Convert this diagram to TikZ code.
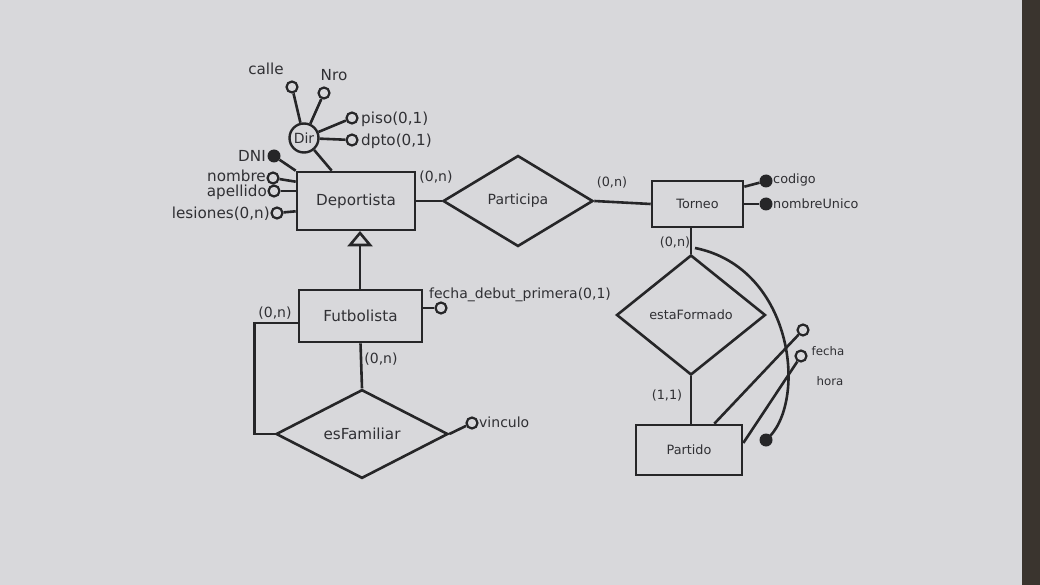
\documentclass[tikz,border=0pt]{standalone}
\usepackage{fontspec}
\setmainfont{DejaVu Sans}
\usetikzlibrary{shapes.geometric,calc}
\definecolor{pagecol}{RGB}{216,216,219}
\definecolor{edgecol}{RGB}{58,52,46}
\definecolor{inkcol}{RGB}{38,38,40}
\definecolor{txtcol}{RGB}{48,48,52}
\tikzset{
  every node/.style={text=txtcol},
  ln/.style={draw=inkcol, line width=2.6pt},
  ent/.style={draw=inkcol, line width=2.6pt, rectangle, inner sep=0pt},
  rel/.style={draw=inkcol, line width=2.6pt, diamond, inner sep=0pt},
  attr/.style={draw=inkcol, line width=2.2pt, circle, fill=pagecol, minimum size=11pt, inner sep=0pt},
  keyattr/.style={circle, fill=inkcol, minimum size=13pt, inner sep=0pt},
  big/.style={font=\fontsize{15.2}{17}\selectfont},
  mid/.style={font=\fontsize{14}{16}\selectfont},
  small/.style={font=\fontsize{12.8}{14}\selectfont},
  tiny/.style={font=\fontsize{11.8}{13}\selectfont},
  lbl/.style={inner sep=0pt}
}
\begin{document}
\begin{tikzpicture}[x=1pt,y=-1pt]
\useasboundingbox (0,0) rectangle (1040,585);
\fill[pagecol] (0,0) rectangle (1040,585);
\fill[edgecol] (1022,0) rectangle (1040,585);

% entities
\node[ent, big, minimum width=118pt, minimum height=58pt] (dep) at (356,201) {Deportista};
\node[ent, small, minimum width=91pt, minimum height=46pt] (tor) at (697.5,204) {Torneo};
\node[ent, small, minimum width=106pt, minimum height=50pt] (par) at (689,450) {Partido};
\node[ent, big, minimum width=123pt, minimum height=52pt] (fut) at (360.5,316) {Futbolista};

% relationships
\node[rel, mid, minimum width=150pt, minimum height=91pt] (pa) at (518,201) {Participa};
\node[rel, small, minimum width=149pt, minimum height=120pt] (ef) at (691,315) {estaFormado};
\node[rel, big, minimum width=172pt, minimum height=88pt] (esf) at (362,434) {esFamiliar};

% composite attribute Dir
\node[draw=inkcol, line width=2.4pt, circle, fill=pagecol, minimum size=29pt, inner sep=0pt, mid] (dir) at (304,138) {Dir};
\node[attr] (calleC) at (292,87) {};
\node[attr] (nroC) at (324,93) {};
\node[attr] (pisoC) at (352,118) {};
\node[attr] (dptoC) at (352,140) {};
\node[big, lbl] (calleL) at (266,69) {calle};
\node[big, lbl] (nroL) at (334,75) {Nro};
\node[big, lbl, anchor=west] (pisoL) at (361,119) {piso(0,1)};
\node[big, lbl, anchor=west] (dptoL) at (361,141) {dpto(0,1)};
\draw[ln] (dir) -- (calleC);
\draw[ln] (dir) -- (nroC);
\draw[ln] (dir) -- (pisoC);
\draw[ln] (dir) -- (dptoC);
\draw[ln] (dir) -- ([xshift=36pt]dep.north west);

% Deportista attributes
\node[keyattr] (dniC) at (274,156) {};
\node[attr] (nomC) at (273,178) {};
\node[attr] (apeC) at (274,191) {};
\node[attr] (lesC) at (277,213) {};
\node[big, lbl, anchor=east] (dniL) at (266,156) {DNI};
\node[big, lbl, anchor=east] (nomL) at (266,176) {nombre};
\node[big, lbl, anchor=east] (apeL) at (267,192) {apellido};
\node[big, lbl, anchor=east] (lesL) at (270,214) {lesiones(0,n)};
\draw[ln] (dniC) -- (dep.north west);
\draw[ln] (nomC) -- ([yshift=-11pt]dep.north west);
\draw[ln] (apeC) -- (apeC -| dep.west);
\draw[ln] (lesC) -- ([yshift=20pt]dep.south west);

% Participa
\draw[ln] (dep.east) -- (pa.west);
\draw[ln] (pa.east) -- (tor.west);
\node[mid, lbl] (c1) at (436,177) {(0,n)};
\node[small, lbl] (c2) at (612,182) {(0,n)};

% Torneo attributes
\node[keyattr] (codC) at (766,181) {};
\node[keyattr] (nuC) at (766,204) {};
\node[small, lbl, anchor=west] (codL) at (773,180) {codigo};
\node[small, lbl, anchor=west] (nuL) at (773,204) {nombreUnico};
\draw[ln] ([yshift=-7pt]tor.north east) -- (codC);
\draw[ln] (tor.east) -- (nuC);

% estaFormado
\draw[ln] (tor.south -| ef.north) -- (ef.north);
\draw[ln] (ef.south) -- (ef.south |- par.north);
\node[small, lbl] (c3) at (675,242) {(0,n)};
\node[small, lbl] (c4) at (667,395) {(1,1)};

% external identifier arc
\coordinate (arcS) at (695,248);
\node[keyattr] (idC) at (766,440) {};
\draw[ln] (arcS) .. controls (795,268) and (808,405) .. (idC.center);

% Partido attributes
\node[attr] (fecC) at (803,330) {};
\node[attr] (horC) at (801,356) {};
\node[tiny, lbl] (fecL) at (828,351) {fecha};
\node[tiny, lbl] (horL) at (830,381) {hora};
\draw[ln] ([xshift=-29pt]par.north east) -- (fecC);
\draw[ln] ([yshift=7pt]par.east) -- (horC);

% ISA
\coordinate (isaT) at (360,233);
\coordinate (isaL) at (350,245);
\coordinate (isaR) at (370,245);
\coordinate (isaB) at (360,245);
\draw[ln, line join=miter] (isaT) -- (isaL) -- (isaR) -- cycle;
\draw[ln] (isaB) -- (isaB |- fut.north);

% Futbolista attributes
\node[attr] (fdpC) at (441,308) {};
\node[mid, lbl, anchor=west] (fdpL) at (429,295) {fecha\_debut\_primera(0,1)};
\draw[ln] (fut.east |- fdpC) -- (fdpC);

% esFamiliar
\node[mid, lbl] (c5) at (275,313) {(0,n)};
\node[mid, lbl] (c6) at (381,359) {(0,n)};
\draw[ln] ([yshift=-7pt]fut.west) -- ++(-43,0) |- (esf.west);
\draw[ln] (fut.south) -- (esf.north);
\node[attr] (vinC) at (472,423) {};
\node[mid, lbl, anchor=west] (vinL) at (479,422) {vinculo};
\draw[ln] (esf.east) -- (vinC);
\end{tikzpicture}
\end{document}
